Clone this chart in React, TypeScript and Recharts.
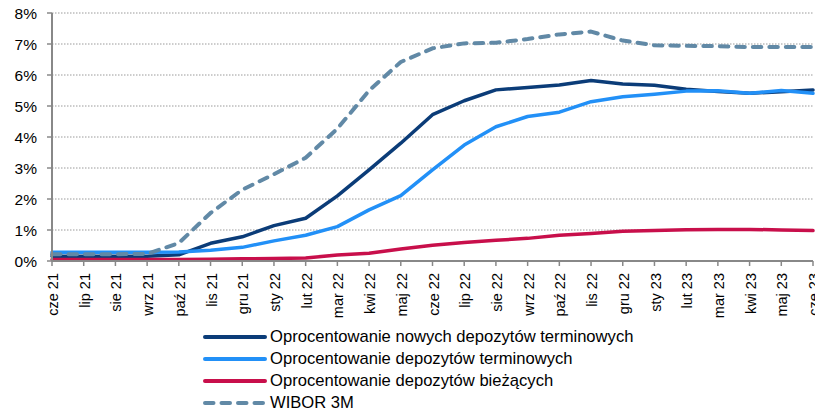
import React from 'react';
import { LineChart, Line, XAxis, YAxis, CartesianGrid, Legend } from 'recharts';

const months = ['cze 21','lip 21','sie 21','wrz 21','paź 21','lis 21','gru 21','sty 22','lut 22','mar 22','kwi 22','maj 22','cze 22','lip 22','sie 22','wrz 22','paź 22','lis 22','gru 22','sty 23','lut 23','mar 23','kwi 23','maj 23','cze 23'];
const newTerm = [0.15,0.15,0.15,0.15,0.2,0.57,0.78,1.14,1.38,2.1,2.94,3.8,4.72,5.17,5.52,5.6,5.68,5.82,5.71,5.67,5.54,5.47,5.41,5.46,5.52];
const term = [0.28,0.28,0.28,0.28,0.29,0.35,0.44,0.65,0.83,1.11,1.65,2.11,2.94,3.74,4.33,4.66,4.8,5.14,5.3,5.38,5.48,5.49,5.41,5.5,5.41];
const current = [0.05,0.05,0.05,0.05,0.05,0.06,0.07,0.08,0.1,0.19,0.25,0.39,0.51,0.6,0.67,0.73,0.83,0.89,0.96,0.98,1.01,1.02,1.02,1.0,0.98];
const wibor = [0.22,0.22,0.22,0.23,0.58,1.55,2.3,2.8,3.33,4.27,5.5,6.42,6.86,7.02,7.04,7.16,7.31,7.4,7.11,6.96,6.94,6.93,6.9,6.9,6.9];
const yTicks = [0, 1, 2, 3, 4, 5, 6, 7, 8];

const series = [
  { key: 'newTerm', name: 'Oprocentowanie nowych depozytów terminowych', color: '#0B3C78', dash: undefined as string | undefined },
  { key: 'term', name: 'Oprocentowanie depozytów terminowych', color: '#2290F7', dash: undefined as string | undefined },
  { key: 'current', name: 'Oprocentowanie depozytów bieżących', color: '#C80F4B', dash: undefined as string | undefined },
  { key: 'wibor', name: 'WIBOR 3M', color: '#6189A6', dash: '8.5 8' },
];

const data = months.map((m, i) => ({
  month: m,
  newTerm: newTerm[i],
  term: term[i],
  current: current[i],
  wibor: wibor[i],
}));

const FONT = '"Liberation Sans", Arial, sans-serif';

const XTick = (props: any) => {
  const { x, y, payload } = props;
  return (
    <text
      x={x}
      y={y}
      transform={`rotate(-90, ${x}, ${y})`}
      textAnchor="end"
      dy="0.42em"
      fontFamily={FONT}
      fontSize={14.5}
      fill="#000"
    >
      {payload.value}
    </text>
  );
};

const YTick = (props: any) => {
  const { x, y, payload } = props;
  return (
    <text x={x} y={y} textAnchor="end" dy="0.36em" fontFamily={FONT} fontSize={15.5} fill="#000">
      {`${payload.value}%`}
    </text>
  );
};

const LegendContent = () => (
  <div style={{ fontFamily: FONT, fontSize: 16.6, color: '#000' }}>
    {series.map((s) => (
      <div key={s.key} style={{ display: 'flex', alignItems: 'center', height: 22 }}>
        <svg width={66} height={22} style={{ display: 'block' }}>
          <line
            x1={2}
            y1={11}
            x2={62}
            y2={11}
            stroke={s.color}
            strokeWidth={4}
            strokeLinecap="round"
            strokeDasharray={s.dash}
          />
        </svg>
        <span style={{ marginLeft: 1, whiteSpace: 'nowrap', lineHeight: '22px' }}>{s.name}</span>
      </div>
    ))}
  </div>
);

export default function App() {
  return (
    <div style={{ position: 'absolute', left: 0, top: 0, width: 815, height: 412, background: '#fff' }}>
      <LineChart width={815} height={412} data={data} margin={{ top: 13, right: 2, bottom: 91, left: 0 }}>
        <CartesianGrid horizontal vertical={false} stroke="#9a9a9a" strokeDasharray="1.5 1.5" strokeWidth={1} />
        <XAxis
          dataKey="month"
          interval={0}
          height={60}
          tick={<XTick />}
          tickSize={5}
          tickMargin={7}
          axisLine={{ stroke: '#888', strokeWidth: 2 }}
          tickLine={{ stroke: '#888', strokeWidth: 1.5 }}
        />
        <YAxis
          domain={[0, 8]}
          ticks={yTicks}
          width={52}
          interval={0}
          tick={<YTick />}
          tickSize={5}
          tickMargin={10}
          axisLine={{ stroke: '#888', strokeWidth: 2 }}
          tickLine={{ stroke: '#888', strokeWidth: 1.5 }}
        />
        {series.map((s) => (
          <Line
            key={s.key}
            dataKey={s.key}
            name={s.name}
            type="linear"
            stroke={s.color}
            strokeWidth={s.dash ? 4 : 3.5}
            strokeDasharray={s.dash}
            strokeLinecap="round"
            strokeLinejoin="round"
            dot={false}
            activeDot={false}
            isAnimationActive={false}
          />
        ))}
        <Legend
          layout="vertical"
          align="center"
          verticalAlign="middle"
          content={<LegendContent />}
          wrapperStyle={{ left: 203, top: 326, width: 500, height: 88 }}
        />
      </LineChart>
    </div>
  );
}
